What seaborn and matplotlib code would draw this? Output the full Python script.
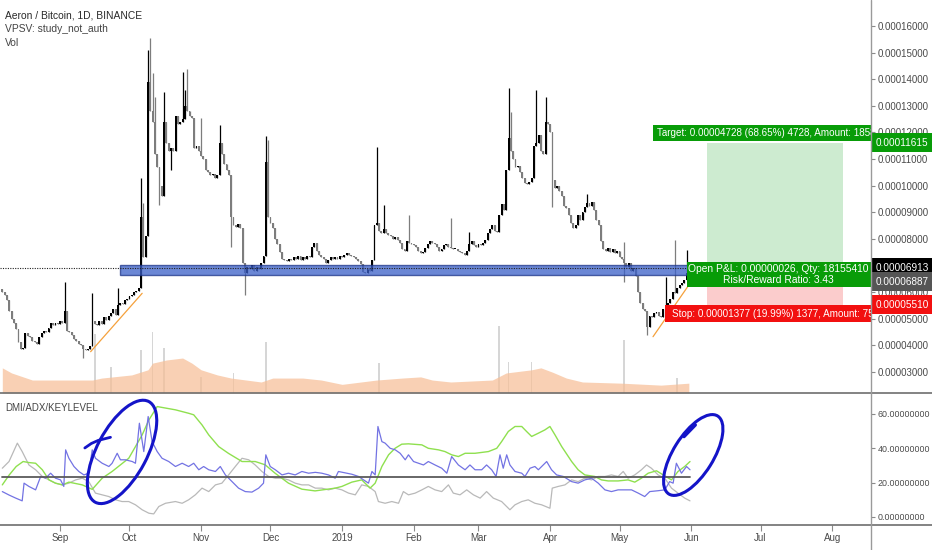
import numpy as np
import pandas as pd
import matplotlib
matplotlib.use("Agg")
import matplotlib.pyplot as plt
import seaborn as sns
from matplotlib.patches import Rectangle, Ellipse
from matplotlib.transforms import ScaledTranslation, blended_transform_factory
from matplotlib.lines import Line2D

sns.set_theme(style="white")
plt.rcParams["font.family"] = ["Liberation Sans", "DejaVu Sans"]

# ---------------- data ----------------
start_date = "2018-08-07"
SAT = 1e-8
first_open = 6100
closes = [
    6000, 5900, 5700, 5300, 5000, 4850, 4600, 4100, 3850, 3900,
    4450, 4350, 4300, 4150, 4100, 4050, 4300, 4450, 4550, 4500,
    4650, 4850, 4750, 4850, 4800, 4900, 4850, 5300, 4550, 4500,
    4400, 4250, 4150, 4050, 4000, 3850, 3800, 3850, 3950, 4900,
    4800, 4750, 4900, 4800, 5050, 4950, 5100, 5200, 5350, 5150,
    5500, 5600, 5550, 5700, 5750, 5850, 5900, 6000, 6050, 6150,
    8800, 7300, 8100, 13900, 12800, 12400, 11200, 10700, 10000, 9600,
    12400, 11600, 11300, 11400, 11300, 12600, 12300, 12400, 12500, 13000,
    12800, 12600, 12550, 11400, 11500, 11300, 11100, 11000, 10600, 10500,
    10400, 10450, 10300, 10400, 11600, 11200, 10800, 10600, 10400, 8800,
    8500, 8450, 8550, 8400, 7100, 6700, 6950, 6850, 7000, 6800,
    6950, 6850, 7100, 7350, 10900, 8800, 8600, 8400, 8000, 7800,
    7500, 7250, 7200, 7150, 7250, 7200, 7300, 7250, 7350, 7200,
    7300, 7250, 7350, 7300, 7700, 7850, 7550, 7400, 7300, 7250,
    7100, 7200, 7300, 7250, 7300, 7250, 7350, 7300, 7400, 7450,
    7400, 7350, 7300, 7250, 7150, 7050, 6750, 6700, 6850, 6800,
    7200, 8500, 8600, 8300, 8200, 8350, 8200, 8150, 8100, 8000,
    8050, 7950, 7850, 7600, 7550, 7900, 7850, 7800, 7750, 7700,
    7550, 7450, 7500, 7650, 7800, 7900, 7850, 7800, 7700, 7550,
    7600, 7750, 7800, 7700, 7650, 7600, 7600, 7550, 7500, 7450,
    7400, 7550, 7800, 7900, 7750, 7700, 7800, 7750, 7850, 7950,
    8200, 8350, 8500, 8300, 8250, 8900, 9300, 9100, 10600, 11800,
    11300, 11000, 10700, 10750, 10500, 10300, 10100, 10050, 10150, 10300,
    11500, 11600, 11900, 11300, 11200, 12400, 12300, 12000, 10200, 9900,
    10000, 9800, 9600, 9250, 9150, 8900, 8600, 8400, 8500, 8900,
    8700, 9000, 9200, 9350, 9250, 9400, 9100, 8700, 8500, 7900,
    7600, 7550, 7650, 7500, 7600, 7450, 7550, 7300, 7250, 7100,
    6950, 7100, 6800, 6900, 6600, 6000, 5600, 5350, 5300, 4700,
    5100, 5050, 5200, 5250, 5100, 5050, 5350, 5500, 5600, 5750,
    6000, 5950, 6150, 6250, 6350, 6450, 6700, 6913,
]
high_spikes = {27: 6370, 39: 5960, 50: 6150, 60: 10300, 61: 9340, 63: 15100,
               64: 15550, 65: 14230, 66: 13330, 70: 13500, 78: 14270, 79: 13600,
               80: 14380, 86: 12540, 94: 12280, 114: 11860, 115: 11700,
               162: 11450, 165: 9270, 176: 8900, 194: 8780, 202: 8250,
               219: 13670, 220: 12770, 231: 13600, 235: 13330, 253: 9700,
               269: 7880, 287: 6560, 291: 7950, 296: 7580}
low_spikes = {35: 3520, 68: 9270, 73: 10580, 99: 7690, 105: 5890,
              238: 9200, 269: 6370, 279: 4380}

# volume (moving-average area + a few visible bars), arbitrary units
vol_days = [0, 4, 13, 26, 39, 43, 56, 63, 65, 71, 78, 82, 86, 93, 99, 112, 117,
            130, 138, 147, 162, 173, 181, 186, 194, 212, 218, 229, 233, 238,
            244, 251, 268, 285, 297]
vol_ma = [6.4, 5.1, 3.3, 3.3, 3.3, 3.8, 4.6, 5.9, 7.6, 8.4, 8.9, 7.6, 5.9, 4.6,
          3.8, 2.8, 3.8, 3.8, 3.3, 2.2, 3.3, 3.8, 4.1, 3.3, 2.8, 3.3, 5.1, 5.9,
          6.4, 5.3, 3.8, 2.8, 2.5, 2.0, 2.5]
vol_bar_days = [40, 47, 60, 65, 70, 86, 100, 114, 163, 215, 219, 229, 269, 292]
vol_bar_vals = [15.0, 6.6, 10.9, 15.5, 11.5, 4.0, 5.0, 13.0, 7.6, 17.0, 7.9, 7.9, 13.5, 3.8]

# DMI / ADX / key level
adx_days = [0, 3, 6, 9, 11.5, 14.4, 17.3, 20.2, 23, 26, 28.8, 34.6, 38.9, 43.2,
            47.5, 54.7, 60.5, 63.4, 67, 74.9, 80.6, 82.8, 86.4, 89.3, 93.6, 97.9,
            103.7, 109.4, 113.7, 118, 123.8, 129.6, 135.3, 144, 146.9, 151.2,
            155.5, 159.1, 161.3, 164.2, 167.1, 169.9, 172.8, 175.7, 181.5, 184.3,
            188.7, 191.5, 194.4, 197.3, 200.2, 204.5, 210.3, 213.9, 216, 218.9,
            221.8, 224.7, 226.8, 229, 231.9, 234.7, 236.9, 239.1, 242, 246.3,
            249.1, 252, 256.3, 259.2, 262.1, 266.4, 270.7, 273.6, 276.5, 279.4,
            283, 285.9, 289.5, 292.3, 295.2, 297.5]
adx_vals = [18.7, 24.5, 29.4, 32.3, 31.7, 31.3, 27.5, 21.6, 19.7, 18.7, 20.3, 18.7,
            16.1, 22.6, 26.5, 34.2, 47.8, 56.5, 64.3, 62.4, 60.4, 59.5, 53.6, 47.8,
            41.0, 37.0, 32.3, 32.3, 30.4, 25.5, 19.7, 16.2, 15.2, 16.8, 17.8, 20.3,
            21.6, 16.8, 19.7, 29.4, 36.2, 40.0, 42.4, 42.6, 42.0, 40.0, 39.1, 38.1,
            36.2, 35.2, 37.1, 37.1, 38.1, 40.0, 43.9, 49.8, 52.7, 52.7, 49.8, 46.9,
            48.8, 50.7, 52.7, 47.8, 41.0, 32.3, 27.5, 24.5, 23.6, 21.6, 21.0, 21.0,
            21.6, 20.3, 22.6, 25.5, 26.9, 24.5, 21.6, 26.5, 29.4, 32.3]
diplus_days = [0, 2.9, 5.8, 8.6, 9.4, 11.5, 14.4, 16.6, 18.7, 20.9, 23, 25.2, 26.6,
               27.4, 28.8, 31, 33.1, 35.3, 37.4, 38.9, 40.3, 43.2, 46.1, 47.5, 49.7,
               51.1, 53.3, 56.2, 57.6, 59.3, 61.2, 63.1, 64.8, 67, 69.1, 72, 74.9,
               77.8, 80.6, 82.8, 85, 87.1, 89.3, 92.2, 94.3, 96.5, 99.4, 102.2,
               105.1, 108, 110.9, 113, 114, 115.9, 118.1, 121, 123.8, 126.7, 129.6,
               132.5, 135.4, 138.2, 141.1, 144, 145.4, 151.2, 154.1, 156.3, 158.4,
               159.9, 161.3, 162.5, 164.2, 165.6, 167.8, 170, 172.1, 174.3, 175.7,
               177.9, 180, 182.2, 184.3, 187.2, 190.1, 192.3, 194.4, 197.3, 200.2,
               202.3, 204.5, 207.4, 209.5, 211.7, 213.6, 215.3, 216.7, 218.2, 219.6,
               221.8, 224.7, 226.1, 228.3, 230.4, 231.9, 234, 235.5, 237.6, 239.8,
               242.7, 246.3, 249.1, 252, 254.9, 257.8, 260.7, 263.5, 266.4, 269.3,
               272.2, 275.1, 277.9, 280.1, 283.7, 286.6, 288.7, 290.2, 291.6, 293.8,
               296, 297.5]
diplus_vals = [14.8, 12.8, 11.0, 9.4, 19.7, 17.8, 15.8, 23.6, 22.6, 25.5, 22.6, 21.6,
               17.8, 39.1, 34.2, 29.4, 26.5, 24.5, 25.5, 39.1, 34.2, 31.3, 29.4, 31.3,
               37.1, 33.3, 33.3, 32.3, 31.3, 54.6, 38.1, 58.5, 43.9, 38.1, 34.2, 32.3,
               29.4, 31.3, 29.4, 31.3, 27.5, 29.4, 27.5, 26.5, 29.4, 24.5, 20.6, 16.8,
               14.8, 14.5, 16.8, 19.7, 36.2, 29.4, 27.5, 24.5, 25.5, 24.5, 26.5, 25.5,
               26.0, 25.5, 24.5, 22.6, 26.5, 24.9, 23.6, 21.6, 19.7, 26.5, 24.5, 52.7,
               43.9, 43.0, 40.0, 39.1, 37.1, 33.3, 36.2, 32.3, 31.3, 30.3, 32.3, 30.3,
               28.4, 25.5, 35.2, 30.3, 27.5, 30.3, 27.5, 27.5, 30.3, 27.5, 23.6, 36.2,
               28.4, 36.2, 30.3, 26.5, 25.5, 23.6, 28.4, 29.4, 27.5, 30.3, 32.3, 27.5,
               24.5, 23.6, 20.6, 19.7, 21.6, 22.6, 19.7, 15.8, 14.8, 15.8, 15.8, 15.8,
               13.9, 11.9, 14.8, 15.3, 15.8, 20.6, 19.7, 31.3, 25.5, 29.4, 27.5]
diminus_days = [0, 2.9, 6.5, 8.6, 11.5, 14.4, 17.3, 20.2, 23, 25.9, 28.8, 31.7, 34.6,
                37.4, 40.3, 43.2, 46.1, 49, 51.8, 54.7, 57.6, 60.5, 63.4, 65.5, 67.7,
                70.6, 74.9, 77.8, 80.6, 83.5, 86.4, 89.3, 92.2, 95, 97.9, 100.8, 103.7,
                106.6, 109.4, 112.3, 115.2, 118.1, 121, 123.8, 126.7, 129.6, 132.5,
                135.4, 138.2, 141.1, 144, 146.9, 149.8, 152.7, 155.5, 158.4, 161.3,
                162.7, 165.6, 168.5, 171.4, 173.5, 175.7, 178.6, 181.5, 184.3, 187.2,
                190.1, 193, 195.1, 198, 200.9, 203.8, 206.7, 209.5, 212.4, 216, 219.6,
                221.8, 224.7, 227.5, 230.4, 233.3, 236.9, 237.9, 240.5, 243.4, 246.3,
                249.1, 252, 254.9, 257.8, 260.7, 263.5, 266.4, 268.6, 270.7, 273.6,
                276.5, 278.7, 280.8, 283.7, 286.6, 289.5, 292.3, 295.2, 297.5]
diminus_vals = [28.4, 32.3, 43.0, 38.1, 30.3, 27.5, 23.6, 21.6, 19.7, 18.7, 19.7, 21.6,
                22.6, 20.6, 13.9, 12.9, 11.9, 10.0, 9.0, 9.0, 7.1, 4.2, 2.2, 1.8, 6.1,
                8.0, 9.0, 8.0, 10.0, 12.9, 16.8, 14.8, 18.7, 19.7, 24.5, 29.4, 34.2,
                33.3, 30.3, 26.5, 23.6, 22.6, 22.6, 21.6, 19.7, 18.7, 18.7, 16.8, 16.8,
                15.8, 16.8, 15.8, 13.9, 12.9, 18.7, 17.8, 14.8, 9.0, 8.0, 9.0, 8.0, 14.8,
                12.9, 13.9, 15.8, 17.8, 15.8, 14.8, 18.7, 13.9, 12.9, 15.8, 12.9, 11.0,
                14.8, 11.0, 9.0, 4.2, 7.1, 9.0, 10.0, 8.0, 7.1, 5.1, 16.8, 17.8, 18.7,
                21.6, 20.6, 22.6, 21.6, 23.6, 23.6, 24.5, 23.6, 26.5, 22.6, 24.5, 27.5,
                30.3, 28.4, 24.5, 22.6, 16.8, 13.9, 11.0, 9.4]
key_level = 23

# drawings
zone_low, zone_high = 6620, 7020
zone_start, zone_end = 50.7, 297.6
trend1_days, trend1_prices = [38.2, 60.5], [3754, 5950]
trend2_days, trend2_prices = [281.5, 298.5], [4318, 6450]
entry_price, target_price, stop_price = 6887, 11615, 5510
last_price = 6913
pos_start, pos_end = 305.0, 363.7
month_labels = ["Sep", "Oct", "Nov", "Dec", "2019", "Feb", "Mar", "Apr", "May", "Jun", "Jul", "Aug"]

# ---------------- figure ----------------
W, H = 932, 550
fig = plt.figure(figsize=(W / 100, H / 100), dpi=100)
axis_x = 871
main_bottom, sep_y, bot_y = 393, 393, 525
ax = fig.add_axes([0, 1 - main_bottom / H, axis_x / W, main_bottom / H])
ax2 = fig.add_axes([0, 1 - bot_y / H, axis_x / W, (bot_y - sep_y) / H], sharex=ax)
axv = ax.twinx()

for a in (ax, ax2, axv):
    for s in a.spines.values():
        s.set_visible(False)
    a.set_facecolor("none")
ax.set_zorder(axv.get_zorder() + 1)
fig.patch.set_facecolor("white")

TICK_FS = 7.0
TXT_FS = 7.1

# volume
axv.bar(vol_bar_days, vol_bar_vals, width=0.7, color="#d6d6d6", linewidth=0)
axv.fill_between(vol_days, vol_ma, 0, color="#f7bf97", alpha=0.72, linewidth=0)
axv.set_ylim(0, 100)
axv.set_yticks([])

# candles
days = np.arange(len(closes))
c = np.array(closes, float)
o = np.concatenate([[first_open], c[:-1]])
hi = np.maximum(o, c)
lo = np.minimum(o, c)
for d, v in high_spikes.items():
    hi[d] = max(hi[d], v)
for d, v in low_spikes.items():
    lo[d] = min(lo[d], v)
up = c >= o
cols = np.where(up, "#000000", "#7d7d7d")
ax.vlines(days, lo * SAT, hi * SAT, colors=cols, linewidth=0.9, zorder=2)
body_h = np.maximum(np.abs(c - o), 50)
ax.bar(days, body_h * SAT, bottom=np.minimum(o, c) * SAT, width=0.82,
       color=cols, linewidth=0, zorder=2)

# support/resistance zone
ax.add_patch(Rectangle((zone_start, zone_low * SAT), zone_end - zone_start,
                       (zone_high - zone_low) * SAT, facecolor="#3a5fc8", alpha=0.75,
                       edgecolor="#1e3589", linewidth=1.0, zorder=3))
ax.axhline(last_price * SAT, color="#222222", linestyle=(0, (1, 1.2)), linewidth=0.8, zorder=4)

# trend lines
sns.lineplot(x=trend1_days, y=np.array(trend1_prices) * SAT, ax=ax, color="#f5a13c", linewidth=0.9, zorder=4)
sns.lineplot(x=trend2_days, y=np.array(trend2_prices) * SAT, ax=ax, color="#f5a13c", linewidth=0.9, zorder=4)

# long position tool
ax.add_patch(Rectangle((pos_start, entry_price * SAT), pos_end - pos_start,
                       (target_price - entry_price) * SAT, facecolor="#cdebd0", edgecolor="none", zorder=1))
ax.add_patch(Rectangle((pos_start, stop_price * SAT), pos_end - pos_start,
                       (entry_price - stop_price) * SAT, facecolor="#fbcccc", edgecolor="none", zorder=1))
green_tv, red_tv = "#089c08", "#f21010"
ax.add_patch(Rectangle((281.6, (target_price + 60) * SAT), 200, 600 * SAT, facecolor=green_tv,
                       edgecolor="none", zorder=5))
ax.text(283.3, (target_price + 360) * SAT, "Target: 0.00004728 (68.65%) 4728, Amount: 1858.36",
        color="white", fontsize=TXT_FS, va="center", ha="left", zorder=6, clip_on=True)
ax.add_patch(Rectangle((296.0, (entry_price - 700) * SAT), 200, 940 * SAT, facecolor=green_tv,
                       edgecolor="none", zorder=5))
ax.text((pos_start + pos_end) / 2 + 1.5, (entry_price - 230) * SAT,
        "Open P&L: 0.00000026, Qty: 18155410\nRisk/Reward Ratio: 3.43",
        color="white", fontsize=TXT_FS + 0.3, va="center", ha="center", zorder=6, linespacing=1.05, clip_on=True)
ax.add_patch(Rectangle((286.8, (stop_price - 640) * SAT), 200, 640 * SAT, facecolor=red_tv,
                       edgecolor="none", zorder=5))
ax.text(289.5, (stop_price - 320) * SAT, "Stop: 0.00001377 (19.99%) 1377, Amount: 750.00",
        color="white", fontsize=TXT_FS, va="center", ha="left", zorder=6, clip_on=True)

# axes ranges
ax.set_xlim(-1.0, 375.8)
ax.set_ylim(2201 * SAT, 16978 * SAT)
ax2.set_ylim(-4.66, 72.2)

# price axis
ax.yaxis.tick_right()
price_ticks = np.arange(3, 17) * 1000
ax.set_yticks(price_ticks * SAT)
ax.set_yticklabels([f"{v * SAT:.8f}" for v in price_ticks])
ax.tick_params(axis="y", right=True, left=False, labelright=True, labelleft=False,
               length=3, width=0.8, color="#8a8a8a", labelsize=TICK_FS, labelcolor="#4a4a4a", pad=2)
ax.tick_params(axis="x", bottom=False, labelbottom=False)

trans = blended_transform_factory(ax.transAxes, ax.transData)
tags = [(target_price, "0.00011615", green_tv, 0), (last_price, "0.00006913", "#000000", 0),
        (entry_price, "0.00006887", "#555555", -9.5), (stop_price, "0.00005510", red_tv, 0)]
for val, txt, fc, dy in tags:
    ax.annotate(txt, xy=(1.0, val * SAT), xycoords=trans, xytext=(3.6, dy), textcoords="offset points",
                ha="left", va="center", fontsize=TICK_FS + 0.2, color="white", zorder=10, annotation_clip=False,
                bbox=dict(boxstyle="square,pad=0.45", fc=fc, ec="none"))

# indicator panel
sns.lineplot(x=diminus_days, y=diminus_vals, ax=ax2, color="#b9b9b9", linewidth=0.9)
sns.lineplot(x=adx_days, y=adx_vals, ax=ax2, color="#8fe04f", linewidth=1.0)
sns.lineplot(x=diplus_days, y=diplus_vals, ax=ax2, color="#7373e3", linewidth=0.9)
ax2.plot([0, 297.5], [key_level, key_level], color="#5a5a5a", linewidth=1.3)
ax2.yaxis.tick_right()
ax2.set_yticks([0, 20, 40, 60])
ax2.set_yticklabels([f"{v:.8f}" for v in [0, 20, 40, 60]])
ax2.tick_params(axis="y", right=True, left=False, labelright=True, labelleft=False,
                length=3, width=0.8, color="#8a8a8a", labelsize=6.4, labelcolor="#4a4a4a", pad=2)
start = pd.Timestamp(start_date)
month_starts = pd.date_range("2018-09-01", "2019-08-01", freq="MS")
ax2.set_xticks([(m - start).days for m in month_starts])
ax2.set_xticklabels(month_labels)
ax2.tick_params(axis="x", bottom=True, length=4, width=0.8, color="#8a8a8a",
                labelsize=TICK_FS, labelcolor="#4a4a4a", pad=1.5)
ax2.set_xlabel("")
ax2.set_ylabel("")
ax.set_ylabel("")
axv.set_ylabel("")

# hand drawn circles
def offset_ellipse(axis, cx, cy, w, h, ang):
    tr = fig.dpi_scale_trans + ScaledTranslation(cx, cy, axis.transData)
    e = Ellipse((0, 0), w, h, angle=ang, fill=False, edgecolor="#1414c8", linewidth=2.2,
                transform=tr, clip_on=False, zorder=8)
    axis.add_patch(e)

offset_ellipse(ax2, 51.8, 37.9, 1.14, 0.50, 62)
offset_ellipse(ax2, 298.9, 36.1, 0.92, 0.40, 58)
ax2.plot([35.7, 38.5, 41.5, 46.8], [40.2, 42.8, 44.6, 46.4], color="#1414c8", linewidth=2.0, clip_on=False, zorder=8)
ax2.plot([294.9, 299.8], [46.8, 53.6], color="#1414c8", linewidth=2.4, clip_on=False, zorder=8)

# labels
ax.text(0.0057, 1 - 15 / main_bottom, "Aeron / Bitcoin, 1D, BINANCE", transform=ax.transAxes,
        fontsize=7.4, color="#2a2a2a", va="center", ha="left")
ax.text(0.0057, 1 - 29 / main_bottom, "VPSV: study_not_auth", transform=ax.transAxes,
        fontsize=7.4, color="#444444", va="center", ha="left")
ax.text(0.0057, 1 - 43 / main_bottom, "Vol", transform=ax.transAxes,
        fontsize=7.4, color="#444444", va="center", ha="left")
ax2.text(0.0057, 1 - 15 / (bot_y - sep_y), "DMI/ADX/KEYLEVEL", transform=ax2.transAxes,
         fontsize=7.0, color="#444444", va="center", ha="left")

# frame lines
fig.add_artist(Line2D([0, 1], [1 - sep_y / H, 1 - sep_y / H], transform=fig.transFigure, color="#6e6e6e", linewidth=1.2))
fig.add_artist(Line2D([0, 1], [1 - bot_y / H, 1 - bot_y / H], transform=fig.transFigure, color="#6e6e6e", linewidth=1.2))
fig.add_artist(Line2D([axis_x / W, axis_x / W], [0, 1], transform=fig.transFigure, color="#9a9a9a", linewidth=1.0))

fig.savefig("out.png", dpi=100, facecolor="white")
